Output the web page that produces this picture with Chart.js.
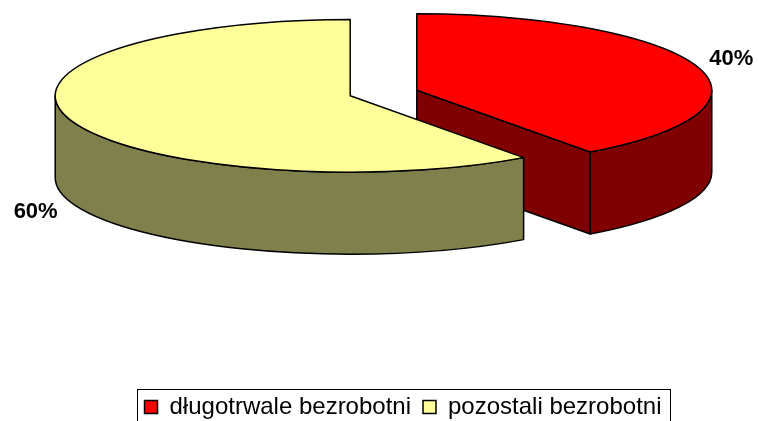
<!DOCTYPE html>
<html><head><meta charset="utf-8">
<script src="https://cdn.jsdelivr.net/npm/chart.js@4"></script>
<style>html,body{margin:0;padding:0;background:#fff;overflow:hidden}</style>
</head><body>
<canvas id="c" width="758" height="421"></canvas>
<script>
const categories = ['długotrwale bezrobotni', 'pozostali bezrobotni'];
const shares = [40, 60];
const percentLabels = ['40%', '60%'];
const topColors = ['#FF0000', '#FFFF99'];
const sideColors = ['#800000', '#80804D'];

const PIE = { cx: 383.5, cy: 93, rx: 295, tilt: 0.259, depth: 82, explode: 35 };

function slices(chart) {
  const meta = chart.getDatasetMeta(0);
  return meta.data.map((el, i) => {
    const p = el.getProps(['x', 'y', 'startAngle', 'endAngle', 'outerRadius'], true);
    const mid = (p.startAngle + p.endAngle) / 2;
    const ox = PIE.cx + Math.cos(mid) * PIE.explode;
    const oy = PIE.cy + Math.sin(mid) * PIE.explode * PIE.tilt;
    return { el, i, p, mid, ox, oy };
  });
}

const pie3d = {
  id: 'pie3d',
  beforeDatasetsDraw(chart) {
    const ctx = chart.ctx;
    const items = slices(chart).sort((a, b) => a.oy - b.oy);
    const R = PIE.rx, RY = R * PIE.tilt, D = PIE.depth;
    items.forEach(({ el, i, p, ox, oy }) => {
      const s = p.startAngle, e = p.endAngle;
      const pt = (a, h) => [ox + R * Math.cos(a), oy + RY * Math.sin(a) + h];
      ctx.save();
      ctx.lineWidth = 1.5;
      ctx.strokeStyle = '#000';
      ctx.lineJoin = 'round';
      ctx.fillStyle = sideColors[i];
      const faces = [];
      if (Math.sin(s - Math.PI / 2) > 1e-6) faces.push(s);
      if (Math.sin(e + Math.PI / 2) > 1e-6) faces.push(e);
      faces.forEach(a => {
        const [x1, y1] = pt(a, 0);
        ctx.beginPath();
        ctx.moveTo(ox, oy); ctx.lineTo(x1, y1); ctx.lineTo(x1, y1 + D); ctx.lineTo(ox, oy + D);
        ctx.closePath(); ctx.fill(); ctx.stroke();
      });
      for (let n = -1; n <= 1; n++) {
        const a = Math.max(s, 2 * Math.PI * n), b = Math.min(e, Math.PI + 2 * Math.PI * n);
        if (b > a) {
          ctx.beginPath();
          ctx.ellipse(ox, oy, R, RY, 0, a, b, false);
          const [xb, yb] = pt(b, 0);
          ctx.lineTo(xb, yb + D);
          ctx.ellipse(ox, oy + D, R, RY, 0, b, a, true);
          ctx.closePath(); ctx.fill(); ctx.stroke();
        }
      }
      // top face through the library's arc element
      const sc = R / p.outerRadius;
      ctx.save();
      ctx.translate(ox, oy);
      ctx.scale(sc, sc * PIE.tilt);
      ctx.translate(-p.x, -p.y);
      el.draw(ctx);
      ctx.restore();
      ctx.beginPath();
      ctx.moveTo(ox, oy);
      ctx.ellipse(ox, oy, R, RY, 0, s, e, false);
      ctx.closePath();
      ctx.stroke();
      ctx.restore();
    });
    return false;
  },
  afterDraw(chart) {
    const ctx = chart.ctx;
    const R = PIE.rx, RY = R * PIE.tilt, D = PIE.depth;
    ctx.save();
    ctx.fillStyle = '#000';
    ctx.font = "bold 22px 'Liberation Sans', Arial, sans-serif";
    ctx.textAlign = 'center';
    ctx.textBaseline = 'middle';
    slices(chart).forEach(({ i, mid, ox, oy }) => {
      const front = Math.sin(mid) > 0;
      const ax = ox + R * Math.cos(mid);
      const ay = oy + RY * Math.sin(mid) + (front ? D : 0);
      const lx = ax + Math.sign(Math.cos(mid)) * 34;
      const ly = ay + (front ? 11 : -8);
      ctx.fillText(percentLabels[i], lx, ly);
    });
    // legend frame
    const hb = chart.legend.legendHitBoxes;
    if (hb && hb.length) {
      const L = Math.min(...hb.map(h => h.left)) - 8;
      const Rr = Math.max(...hb.map(h => h.left + h.width)) + 8;
      const T = hb[0].top + hb[0].height / 2 - 18;
      ctx.strokeStyle = '#000';
      ctx.lineWidth = 1;
      ctx.strokeRect(Math.round(L) + 0.5, Math.round(T) + 0.5, Math.round(Rr - L), chart.height - T + 10);
    }
    ctx.restore();
  }
};

const baseGen = (Chart.overrides.pie || Chart.overrides.doughnut).plugins.legend.labels.generateLabels;

new Chart(document.getElementById('c'), {
  type: 'pie',
  data: {
    labels: categories,
    datasets: [{
      data: shares,
      backgroundColor: topColors,
      borderColor: '#000',
      borderWidth: 0
    }]
  },
  options: {
    responsive: false,
    maintainAspectRatio: false,
    animation: false,
    events: [],
    radius: 295,
    layout: { padding: { bottom: -8, left: 48 } },
    plugins: {
      tooltip: { enabled: false },
      legend: {
        position: 'bottom',
        labels: {
          color: '#000',
          boxWidth: 13,
          boxHeight: 13,
          padding: 12,
          font: { family: "'Liberation Sans', Arial, sans-serif", size: 24 },
          generateLabels(chart) {
            const items = baseGen(chart);
            items.forEach(it => { it.strokeStyle = '#000'; it.lineWidth = 1.5; });
            return items;
          }
        }
      }
    }
  },
  plugins: [pie3d]
});
</script>
</body></html>
